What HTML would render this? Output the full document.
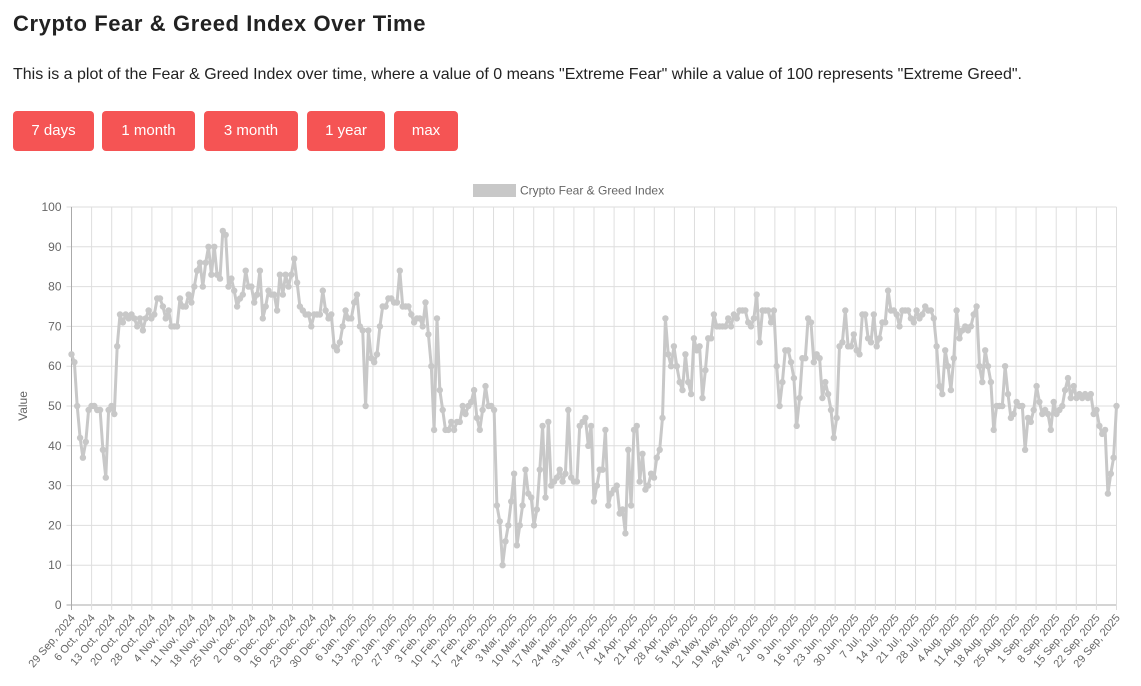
<!DOCTYPE html>
<html><head><meta charset="utf-8"><style>
body{margin:0;background:#fff;font-family:"Liberation Sans",sans-serif;color:#212529;width:1141px;height:686px;overflow:hidden;position:relative}
h1{position:absolute;left:13px;top:11px;margin:0;font-size:22px;font-weight:bold;color:#222;letter-spacing:0.6px}
p{position:absolute;left:13px;top:66px;margin:0;font-size:16px;color:#222}
.b{position:absolute;top:111px;height:40px;background:#f55454;color:#fff;border-radius:4px;font-size:15px;line-height:40px;text-align:center}
svg{position:absolute;left:0;top:0}
</style></head><body>
<h1>Crypto Fear &amp; Greed Index Over Time</h1>
<p>This is a plot of the Fear &amp; Greed Index over time, where a value of 0 means "Extreme Fear" while a value of 100 represents "Extreme Greed".</p>
<div class="b" style="left:13px;width:81px">7 days</div>
<div class="b" style="left:102px;width:93px">1 month</div>
<div class="b" style="left:204px;width:94px">3 month</div>
<div class="b" style="left:307px;width:78px">1 year</div>
<div class="b" style="left:394px;width:64px">max</div>
<svg width="1141" height="686" font-family="Liberation Sans, sans-serif">
<g id="grid"></g>
<rect x="473" y="184" width="43" height="13" fill="#c8c8c8"/>
<text x="520" y="194.5" font-size="12" fill="#666">Crypto Fear &amp; Greed Index</text>
<text transform="translate(27,406) rotate(-90)" text-anchor="middle" font-size="12" fill="#666">Value</text>
<g id="yl" font-size="12" fill="#666" text-anchor="end">
<text>0</text><text>10</text><text>20</text><text>30</text><text>40</text><text>50</text><text>60</text><text>70</text><text>80</text><text>90</text><text>100</text>
</g>
<g id="xl" font-size="11" fill="#666" text-anchor="end">
<text>29 Sep, 2024</text><text>6 Oct, 2024</text><text>13 Oct, 2024</text><text>20 Oct, 2024</text><text>28 Oct, 2024</text><text>4 Nov, 2024</text><text>11 Nov, 2024</text><text>18 Nov, 2024</text><text>25 Nov, 2024</text><text>2 Dec, 2024</text><text>9 Dec, 2024</text><text>16 Dec, 2024</text><text>23 Dec, 2024</text><text>30 Dec, 2024</text><text>6 Jan, 2025</text><text>13 Jan, 2025</text><text>20 Jan, 2025</text><text>27 Jan, 2025</text><text>3 Feb, 2025</text><text>10 Feb, 2025</text><text>17 Feb, 2025</text><text>24 Feb, 2025</text><text>3 Mar, 2025</text><text>10 Mar, 2025</text><text>17 Mar, 2025</text><text>24 Mar, 2025</text><text>31 Mar, 2025</text><text>7 Apr, 2025</text><text>14 Apr, 2025</text><text>21 Apr, 2025</text><text>28 Apr, 2025</text><text>5 May, 2025</text><text>12 May, 2025</text><text>19 May, 2025</text><text>26 May, 2025</text><text>2 Jun, 2025</text><text>9 Jun, 2025</text><text>16 Jun, 2025</text><text>23 Jun, 2025</text><text>30 Jun, 2025</text><text>7 Jul, 2025</text><text>14 Jul, 2025</text><text>21 Jul, 2025</text><text>28 Jul, 2025</text><text>4 Aug, 2025</text><text>11 Aug, 2025</text><text>18 Aug, 2025</text><text>25 Aug, 2025</text><text>1 Sep, 2025</text><text>8 Sep, 2025</text><text>15 Sep, 2025</text><text>22 Sep, 2025</text><text>29 Sep, 2025</text>
</g>
<g id="plot"></g>
</svg>
<script>
var NS="http://www.w3.org/2000/svg";
var X0=71.5,X1=1116.5,Y0=605,Y1=207;
function el(n,a,p){var e=document.createElementNS(NS,n);for(var k in a)e.setAttribute(k,a[k]);p.appendChild(e);return e;}
var g=document.getElementById('grid');
for(var i=0;i<=10;i++){var y=Y0-(Y0-Y1)*i/10;el('line',{x1:X0-5,x2:X1,y1:y,y2:y,stroke:i==0?'#aaa':'#dedede','stroke-width':1},g);}
var dx=(X1-X0)/52;
for(var k=0;k<=52;k++){var x=X0+dx*k;el('line',{x1:x,x2:x,y1:Y1,y2:Y0+5,stroke:k==0?'#aaa':'#dedede','stroke-width':1},g);}
var yl=document.getElementById('yl').children;
for(var i=0;i<yl.length;i++){yl[i].setAttribute('x',X0-10);yl[i].setAttribute('y',Y0-(Y0-Y1)*i/10+4);}
var xl=document.getElementById('xl').children;
for(var k=0;k<xl.length;k++){var x=X0+dx*k;xl[k].setAttribute('transform','translate('+(x+4)+','+(Y0+13)+') rotate(-50)');}
var d=[63,61,50,42,37,41,49, 50,50,49,49,39,32,49, 50,48,65,73,71,73,72, 73,72,70,72,69,72,74, 72,73,77,77,75,72,74, 70,70,70,77,75,75,78, 76,80,84,86,80,86,90, 83,90,83,82,94,93,80, 82,79,75,77,78,84,80, 80,76,78,84,72,75,79, 78,78,74,83,78,83,80, 83,87,81,75,74,73,73, 70,73,73,73,79,74,72, 73,65,64,66,70,74,72, 72,76,78,70,69,50,69, 62,61,63,70,75,75,77, 77,76,76,84,75,75,75, 73,71,72,72,70,76,68, 60,44,72,54,49,44,44, 46,44,46,46,50,48,50, 51,54,47,44,49,55,50, 50,49,25,21,10,16,20, 26,33,15,20,25,34,28, 27,20,24,34,45,27,46, 30,31,32,34,31,33,49, 32,31,31,45,46,47,40, 45,26,30,34,34,44,25, 28,29,30,23,24,18,39, 25,44,45,31,38,29,30, 33,32,37,39,47,72,63, 60,65,60,56,54,63,56, 53,67,64,65,52,59,67, 67,73,70,70,70,70,72, 70,73,72,74,74,74,71, 70,72,78,66,74,74,74, 71,74,60,50,56,64,64, 61,57,45,52,62,62,72, 71,61,63,62,52,56,53, 49,42,47,65,66,74,65, 65,68,64,63,73,73,67, 66,73,65,67,71,71,79, 74,74,73,70,74,74,74, 72,71,74,72,73,75,74, 74,72,65,55,53,64,60, 54,62,74,67,69,70,69, 70,73,75,60,56,64,60, 56,44,50,50,50,60,53, 47,48,51,50,50,39,47, 46,49,55,51,48,49,48, 44,51,48,49,50,54,57, 52,55,52,53,52,53,52, 53,48,49,45,43,44,28,33,37,50];
var p=document.getElementById('plot'),pts=[];
for(var i=0;i<d.length;i++){var x=X0+(X1-X0)*i/(d.length-1),y=Y0-(Y0-Y1)*d[i]/100;pts.push(x.toFixed(1)+','+y.toFixed(1));}
el('polyline',{points:pts.join(' '),fill:'none',stroke:'#c8c8c8','stroke-width':3,'stroke-linejoin':'round'},p);
for(var i=0;i<pts.length;i++){var q=pts[i].split(',');el('circle',{cx:q[0],cy:q[1],r:3.2,fill:'#c8c8c8'},p);}
</script>
</body></html>
